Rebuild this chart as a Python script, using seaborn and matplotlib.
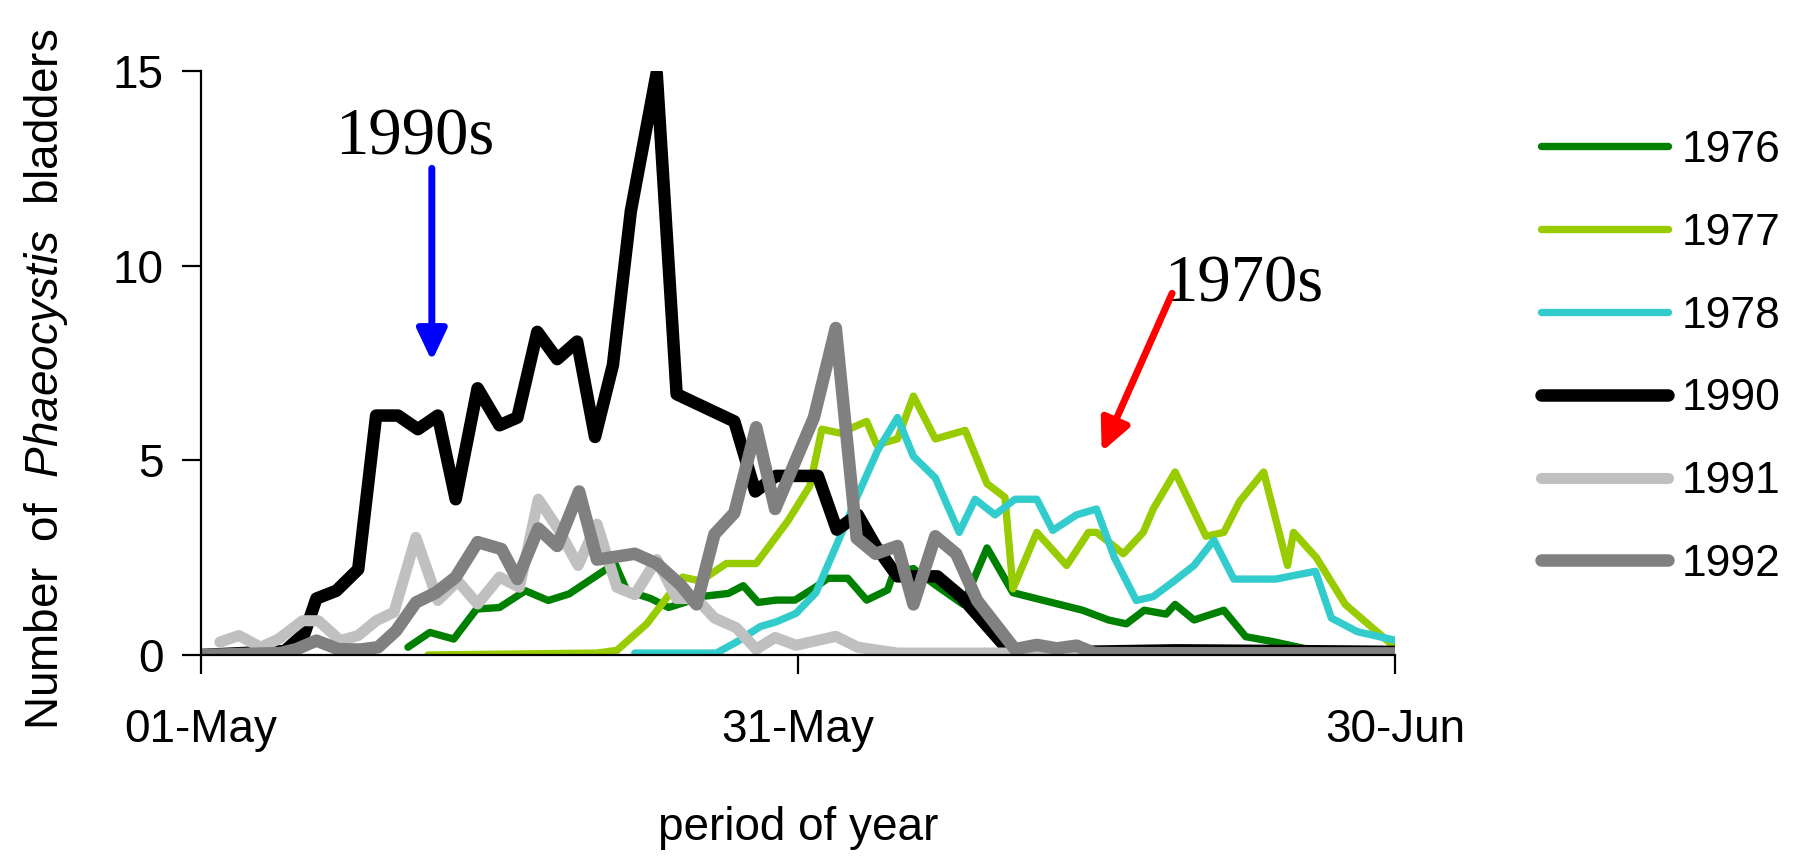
import matplotlib
matplotlib.use("Agg")
import matplotlib.pyplot as plt
import seaborn as sns

# days after 01-May and counts, one pair of lists per year
day_1976 = [10.4, 11.5, 12.7, 13.85, 15.0, 16.3, 17.45, 18.5, 20.8, 21.4, 22.6, 23.5, 24.3, 25.1,
            26.5, 27.25, 28.0, 28.9, 29.85, 30.9, 31.5, 32.5, 33.45, 34.5, 34.8, 35.8, 36.9, 38.3,
            39.5, 40.8, 44.3, 45.6, 46.5, 47.4, 48.5, 48.95, 49.9, 51.4, 52.5, 53.9, 55.6]
val_1976 = [0.2, 0.58, 0.41, 1.18, 1.22, 1.65, 1.4, 1.57, 2.35, 1.65, 1.45, 1.22, 1.35, 1.5,
            1.58, 1.78, 1.35, 1.41, 1.41, 1.75, 1.97, 1.97, 1.41, 1.67, 2.1, 2.22, 1.8, 1.3,
            2.75, 1.6, 1.15, 0.9, 0.8, 1.15, 1.05, 1.3, 0.9, 1.15, 0.47, 0.34, 0.15]

day_1977 = [11.4, 19.9, 20.9, 22.4, 24.2, 25.1, 26.4, 27.9, 29.5, 30.6, 31.2, 32.1, 33.45, 33.95,
            35.0, 35.8, 36.9, 38.4, 39.5, 40.4, 40.8, 42.0, 43.5, 44.6, 45.0, 46.35, 47.35, 47.85,
            48.95, 50.5, 51.4, 52.2, 53.4, 54.6, 54.9, 56.05, 57.5, 58.7, 60.0]
val_1977 = [0.0, 0.05, 0.12, 0.8, 2.0, 1.9, 2.35, 2.35, 3.45, 4.35, 5.8, 5.7, 6.0, 5.4,
            5.55, 6.65, 5.55, 5.77, 4.4, 4.05, 1.7, 3.15, 2.3, 3.15, 3.15, 2.6, 3.15, 3.75,
            4.7, 3.05, 3.15, 3.95, 4.7, 2.3, 3.15, 2.5, 1.3, 0.77, 0.2]

day_1978 = [21.8, 25.9, 26.9, 28.1, 28.9, 29.9, 30.9, 32.0, 33.0, 34.0, 35.0, 35.8, 36.9, 38.1,
            38.9, 39.9, 40.9, 42.0, 42.8, 44.0, 45.0, 45.9, 47.0, 47.85, 48.9, 49.9, 50.9, 51.9,
            54.0, 56.0, 56.8, 58.1, 60.0]
val_1978 = [0.05, 0.05, 0.33, 0.73, 0.85, 1.07, 1.6, 2.9, 4.1, 5.25, 6.1, 5.1, 4.55, 3.15,
            4.0, 3.6, 4.0, 4.0, 3.2, 3.6, 3.75, 2.5, 1.4, 1.5, 1.9, 2.3, 2.95, 1.95,
            1.95, 2.15, 0.95, 0.6, 0.38]

day_1990 = [0, 4.2, 5.2, 5.8, 6.8, 7.9, 8.8, 9.9, 10.9, 11.9, 12.8, 13.9, 15.0, 15.9, 16.9, 17.9,
            18.9, 19.8, 20.7, 21.6, 22.9, 23.9, 26.8, 27.85, 28.9, 31.0, 31.95, 33.0, 33.9, 35.0,
            37.0, 38.2, 40.7, 44.0, 49.0, 55.0, 60.0]
val_1990 = [0, 0.1, 0.55, 1.45, 1.65, 2.2, 6.15, 6.15, 5.8, 6.15, 4.0, 6.85, 5.9, 6.1, 8.3, 7.6,
            8.05, 5.6, 7.45, 11.4, 14.95, 6.7, 6.0, 4.2, 4.6, 4.6, 3.22, 3.6, 2.8, 2.02,
            2.02, 1.5, 0.05, 0.08, 0.12, 0.1, 0.08]

day_1991 = [0.95, 1.9, 3.0, 3.9, 5.1, 5.9, 7.0, 7.9, 8.8, 9.7, 10.8, 11.9, 12.9, 13.9, 15.0, 16.0,
            16.95, 17.95, 18.95, 19.9, 20.9, 21.8, 22.9, 23.9, 24.9, 25.8, 26.9, 27.9, 28.85,
            29.9, 31.9, 33.0, 35.0, 60.0]
val_1991 = [0.33, 0.5, 0.2, 0.41, 0.88, 0.88, 0.37, 0.5, 0.88, 1.1, 3.02, 1.4, 1.9, 1.31, 2.0, 1.74,
            4.0, 3.24, 2.3, 3.36, 1.74, 1.55, 2.45, 1.45, 1.45, 0.95, 0.7, 0.15, 0.45,
            0.25, 0.48, 0.2, 0.05, 0.05]

day_1992 = [0, 4.0, 4.8, 5.8, 6.9, 8.0, 8.9, 9.8, 10.8, 11.8, 12.8, 13.9, 15.1, 15.9, 16.95, 17.9,
            19.0, 19.9, 21.8, 22.9, 24.1, 24.9, 25.8, 26.8, 27.9, 28.85, 30.8, 31.9, 32.95, 33.9,
            35.0, 35.8, 36.9, 37.95, 39.0, 40.9, 42.0, 43.0, 44.0, 44.9, 60.0]
val_1992 = [0, 0.05, 0.15, 0.37, 0.15, 0.14, 0.2, 0.62, 1.35, 1.6, 2.0, 2.9, 2.72, 1.95, 3.25, 2.8,
            4.2, 2.45, 2.6, 2.35, 1.8, 1.3, 3.1, 3.65, 5.85, 3.75, 6.1, 8.4, 3.0, 2.6,
            2.8, 1.3, 3.05, 2.6, 1.4, 0.15, 0.26, 0.17, 0.24, 0.05, 0.03]

years = ["1976", "1977", "1978", "1990", "1991", "1992"]
days = [day_1976, day_1977, day_1978, day_1990, day_1991, day_1992]
values = [val_1976, val_1977, val_1978, val_1990, val_1991, val_1992]
colors = ["#008000", "#99CC00", "#33CCCC", "#000000", "#C0C0C0", "#808080"]
widths = [5.3, 5.3, 5.3, 9, 8, 9]

tick_days = [0, 30, 60]
tick_labels = ["01-May", "31-May", "30-Jun"]

sns.set_style("white")
plt.rcParams["font.family"] = ["Liberation Sans", "DejaVu Sans"]
plt.rcParams["mathtext.fontset"] = "custom"
plt.rcParams["mathtext.rm"] = "Liberation Sans"
plt.rcParams["mathtext.it"] = "Liberation Sans:italic"
plt.rcParams["text.color"] = "black"
plt.rcParams["axes.labelcolor"] = "black"
plt.rcParams["xtick.color"] = "black"
plt.rcParams["ytick.color"] = "black"

fig = plt.figure(figsize=(18, 8.58), dpi=100)
ax = fig.add_axes([201 / 1800, 1 - 655 / 858, 1194 / 1800, 584 / 858])

for yr, d, v, c, lw in zip(years, days, values, colors, widths):
    sns.lineplot(x=d, y=v, ax=ax, color=c, linewidth=lw, label=yr, sort=False,
                 estimator=None, solid_joinstyle="round", solid_capstyle="round")

ax.set_xlim(0, 60)
ax.set_ylim(0, 15)
ax.set_xticks(tick_days)
ax.set_xticklabels(tick_labels)
ax.set_yticks([0, 5, 10, 15])
ax.tick_params(axis="both", direction="out", length=14, width=1.6, labelsize=33,
               color="black", labelcolor="black", bottom=True, left=True)
ax.tick_params(axis="x", pad=24)
ax.tick_params(axis="y", pad=13)
sns.despine(ax=ax)
for s in ["left", "bottom"]:
    ax.spines[s].set_linewidth(1.6)
    ax.spines[s].set_color("black")

ax.set_xlabel("period of year", fontsize=33, color="black")
ax.xaxis.set_label_coords(0.5, -0.2586)
ax.xaxis.label.set_va("top")
ax.set_ylabel("Number  of  $\\mathit{Phaeocystis}$  bladders", fontsize=33, color="black")
ax.yaxis.set_label_coords(-0.11, 0.4726)

# decade annotations
ax.text(10.75, 12.85, "1990s", fontsize=48, family="Liberation Serif", ha="center",
        va="baseline", color="black")
ax.text(52.4, 9.07, "1970s", fontsize=48, family="Liberation Serif", ha="center",
        va="baseline", color="black")
ax.annotate("", xy=(11.6, 7.55), xytext=(11.6, 12.5),
            arrowprops=dict(arrowstyle="-|>,head_length=0.95,head_width=0.45", color="blue",
                            lw=5, mutation_scale=20, shrinkA=0, shrinkB=0))
ax.annotate("", xy=(45.26, 5.22), xytext=(48.8, 9.29),
            arrowprops=dict(arrowstyle="-|>,head_length=0.95,head_width=0.45", color="red",
                            lw=5, mutation_scale=20, shrinkA=0, shrinkB=0))

leg = ax.legend(loc="upper left", bbox_to_anchor=(1541 / 1800, 1 - 130 / 858),
                bbox_transform=fig.transFigure, frameon=False, fontsize=32,
                handlelength=2.86, handletextpad=0.3, labelspacing=0.94,
                borderpad=0, borderaxespad=0)
for t in leg.get_texts():
    t.set_color("black")

fig.savefig("out.png", dpi=100)
